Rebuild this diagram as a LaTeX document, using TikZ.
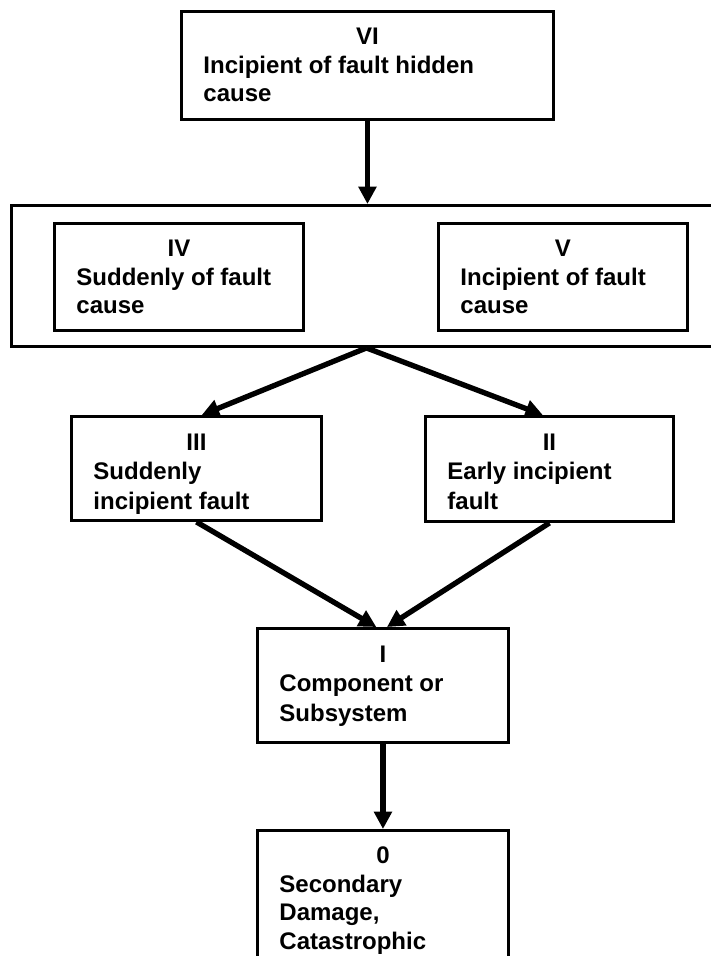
\documentclass[tikz,border=0pt]{standalone}
\usepackage{fontspec}
\setmainfont{Liberation Sans}
\usepackage{tikz}
\usetikzlibrary{arrows.meta,positioning,calc}

\newcommand{\stagetext}[4]{\parbox[c][#2][t]{#1}{\vspace*{9.7pt}\centering\strut #3\par\raggedright #4}}

\tikzset{
    stagebox/.style={draw, rectangle, line width=2.2pt, inner xsep=16.5pt, inner ysep=0pt, anchor=north west,
        font=\bfseries\fontsize{18}{21.5}\selectfont},
    widebox/.style={stagebox, font=\bfseries\fontsize{18}{22.2}\selectfont},
    stagearrow/.style={line width=4pt, -{Triangle[length=13pt,width=13pt]}},
}

\begin{document}
\begin{tikzpicture}[x=0.75pt, y=-0.75pt]
    \useasboundingbox (0,0) rectangle (710,956);

    % VI: hidden cause
    \node[stagebox] (six) at (180,10) {\stagetext{246pt}{81pt}{VI}{Incipient of fault hidden\\cause}};

    % IV and V: causes
    \node[draw, line width=2.2pt, anchor=north west, inner sep=0pt,
        minimum width=532.5pt, minimum height=105.75pt] (causes) at (10,204) {};
    \node[stagebox] (four) at (53,222) {\stagetext{153.75pt}{80.25pt}{IV}{Suddenly of fault\\cause}};
    \node[stagebox] (five) at (437,222) {\stagetext{153.75pt}{80.25pt}{V}{Incipient of fault\\cause}};

    % III and II: faults
    \node[widebox] (three) at (70,415) {\stagetext{154.5pt}{78pt}{III}{Suddenly\\incipient fault}};
    \node[widebox] (two) at (424,415) {\stagetext{153pt}{78.75pt}{II}{Early incipient\\fault}};

    % I and 0
    \node[widebox] (one) at (256,627) {\stagetext{155.25pt}{85.5pt}{I}{Component or\\Subsystem}};
    \node[stagebox] (zero) at (256,829) {\stagetext{155.25pt}{120.75pt}{0}{Secondary\\Damage,\\Catastrophic}};

    % arrows
    \draw[stagearrow] (six.south) -- (six.south |- causes.north);
    \draw[stagearrow] (causes.south) -- ([xshift=4pt]three.north);
    \draw[stagearrow] (causes.south) -- ([xshift=-5pt]two.north);
    \draw[stagearrow] (three.south) -- ([xshift=-5pt]one.north);
    \draw[stagearrow] (two.south) -- ([xshift=3pt]one.north);
    \draw[stagearrow] (one.south) -- (zero.north);
\end{tikzpicture}
\end{document}
